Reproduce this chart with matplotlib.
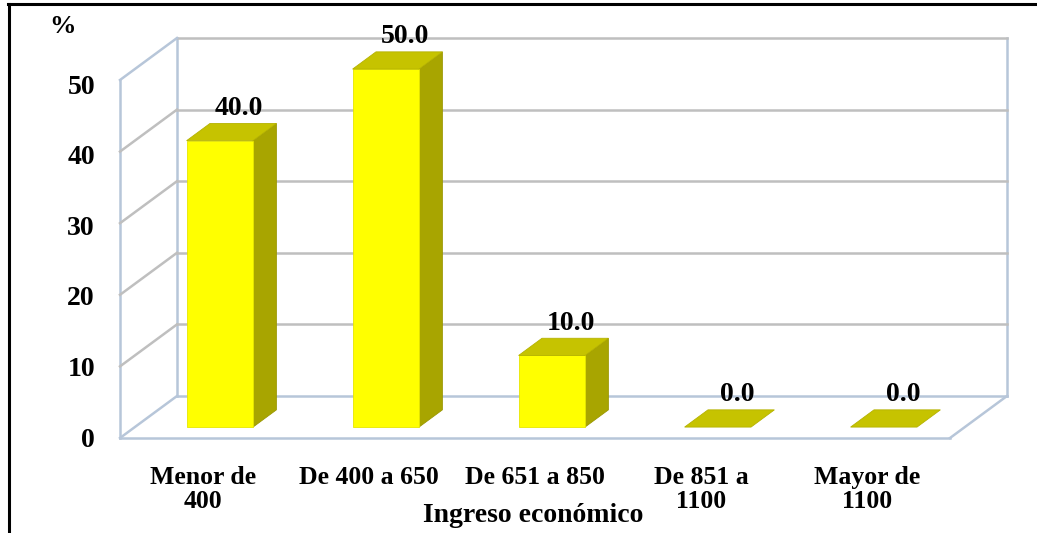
import numpy as np
import matplotlib
matplotlib.use("Agg")
import matplotlib.pyplot as plt
from matplotlib.patches import Polygon

# datos
categorias = ["Menor de\n400", "De 400 a 650", "De 651 a 850", "De 851 a\n1100", "Mayor de\n1100"]
porcentajes = [40.0, 50.0, 10.0, 0.0, 0.0]
ticks_y = [0, 10, 20, 30, 40, 50]
titulo_x = "Ingreso económico"
titulo_y = "%"

W, H = 1037, 533
fig = plt.figure(figsize=(W / 100, H / 100), dpi=100)
ax = fig.add_axes([0, 0, 1, 1])
ax.set_axis_off()

# escala: 1 categoria = 166 px, 1 % = 7.16 px ; origen del piso frontal en (120, 438)
px_x, px_y = 166.0, 7.16
x0_px, y0_px = 120.0, 438.0
ax.set_xlim(-x0_px / px_x, (W - x0_px) / px_x)
ax.set_ylim(-(H - y0_px) / px_y, y0_px / px_y)

n = len(categorias)
ymax = 50
dx, dy = 57 / px_x, 42 / px_y  # profundidad oblicua

fuente = dict(family="Liberation Serif", weight="bold", color="black")
borde = "#B7C6D9"
rejilla = "#BFBFBF"

# pared de fondo, pared lateral y piso
ax.plot([dx, n + dx], [dy, dy], color=borde, lw=1.8, zorder=1)
ax.plot([dx, dx], [dy, ymax + dy], color=borde, lw=1.8, zorder=1)
ax.plot([n + dx, n + dx], [dy, ymax + dy], color=borde, lw=1.8, zorder=1)
ax.plot([dx, n + dx], [ymax + dy, ymax + dy], color=rejilla, lw=1.8, zorder=1)
ax.plot([0, 0], [0, ymax], color=borde, lw=1.8, zorder=1)
ax.plot([0, dx], [ymax, ymax + dy], color=borde, lw=1.8, zorder=1)
ax.plot([0, n], [0, 0], color=borde, lw=1.8, zorder=1)
ax.plot([0, dx], [0, dy], color=borde, lw=1.8, zorder=1)
ax.plot([n, n + dx], [0, dy], color=borde, lw=1.8, zorder=1)
for v in ticks_y[1:-1]:
    ax.plot([dx, n + dx], [v + dy, v + dy], color=rejilla, lw=1.8, zorder=1)
    ax.plot([0, dx], [v, v + dy], color=rejilla, lw=1.8, zorder=1)

# barras 3D
ancho = 0.4
f0, f1 = 0.26, 0.67
c_frente, c_tapa, c_lado = "#FFFF00", "#C6C300", "#A8A500"
for i, val in enumerate(porcentajes):
    xl = i + 0.512 - ancho / 2 + f0 * dx
    xr = xl + ancho
    yb = f0 * dy
    ddx, ddy = (f1 - f0) * dx, (f1 - f0) * dy
    yt = yb + val
    lado = [(xr, yb), (xr + ddx, yb + ddy), (xr + ddx, yt + ddy), (xr, yt)]
    tapa = [(xl, yt), (xr, yt), (xr + ddx, yt + ddy), (xl + ddx, yt + ddy)]
    frente = [(xl, yb), (xr, yb), (xr, yt), (xl, yt)]
    if val > 0:
        ax.add_patch(Polygon(lado, closed=True, fc=c_lado, ec="#9A9700", lw=0.6, zorder=3))
        ax.add_patch(Polygon(frente, closed=True, fc=c_frente, ec="#E6E600", lw=0.6, zorder=3))
    ax.add_patch(Polygon(tapa, closed=True, fc=c_tapa, ec="#B5B200", lw=0.6, zorder=3))
    ax.text(i + 0.512 + 0.6 * dx, yt + ddy + 2.1, f"{val:.1f}", ha="center", va="center",
            fontsize=20, zorder=5, **fuente)

# etiquetas de categorias
for i, cat in enumerate(categorias):
    ax.text(i + 0.5, -3.9, cat, ha="center", va="top", fontsize=18.5,
            linespacing=1.08, zorder=5, **fuente)

# eje y
for v in ticks_y:
    ax.text(-25 / px_x, v * 0.986 - 0.3, str(v), ha="right", va="center", fontsize=20, **fuente)
ax.text(-57 / px_x, (y0_px - 26) / px_y, titulo_y, ha="center", va="center", fontsize=19, **fuente)
ax.text((533 - x0_px) / px_x, -(516 - y0_px) / px_y, titulo_x, ha="center", va="center",
        fontsize=20, **fuente)

# marco exterior
ax.plot([(8 - x0_px) / px_x, (W + 5 - x0_px) / px_x], [(y0_px - 4) / px_y] * 2,
        color="black", lw=2.2, clip_on=False)
ax.plot([(8.5 - x0_px) / px_x] * 2, [(y0_px - 4) / px_y, -(H - y0_px) / px_y],
        color="black", lw=2.2, clip_on=False)

fig.savefig("out.png", dpi=100)
